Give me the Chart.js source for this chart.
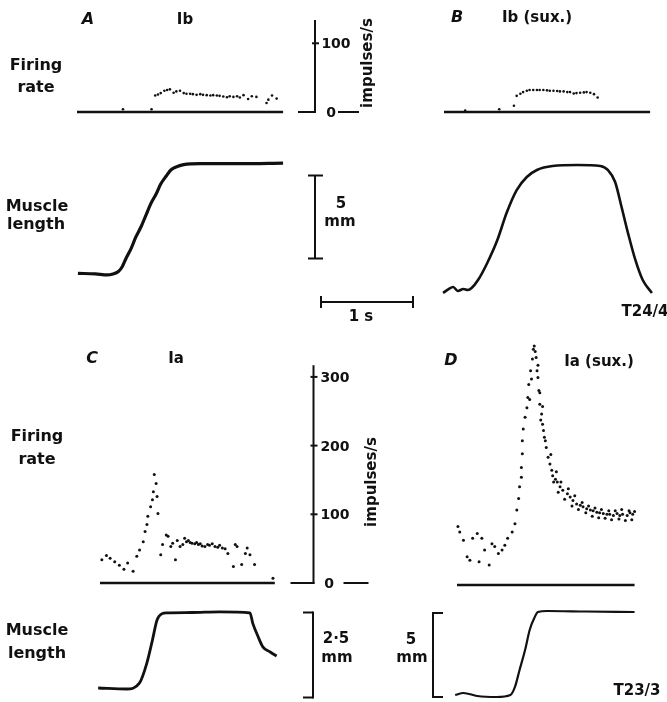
<!DOCTYPE html>
<html>
<head>
<meta charset="utf-8">
<script src="https://cdn.jsdelivr.net/npm/chart.js@4.4.1/dist/chart.umd.min.js"></script>
<style>
  html, body { margin: 0; padding: 0; background: #fff; }
  #wrap { position: relative; width: 667px; height: 702px; overflow: hidden; }
  #fig { position: absolute; left: 0; top: 0; }
  .lbl {
    position: absolute;
    transform: translate(-50%, -50%);
    font-family: "DejaVu Sans", "Liberation Sans", sans-serif;
    font-weight: bold;
    font-size: 15px;
    line-height: 1;
    color: #111;
    white-space: nowrap;
  }
  .row { font-size: 16px; }
  .panel { font-size: 16px; font-style: italic; }
  .tick { font-size: 14px; }
  .rot { transform: translate(-50%, -50%) rotate(-90deg); }
</style>
</head>
<body>
<div id="wrap">
  <canvas id="fig" width="667" height="702"></canvas>
</div>
<script>
const INK = '#111';
const W = 667, H = 702;
const PX_PER_S = 92;      // 1 s scale bar
const PX_PER_IMP = 0.687; // 100 impulses/s = 68.7 px

// ---- A: Ib ----
const aRateT = [0.50, 0.81, 0.85, 0.88, 0.91, 0.95, 0.98, 1.01, 1.05, 1.08, 1.12, 1.16, 1.19, 1.23, 1.26, 1.30, 1.34, 1.37, 1.41, 1.45, 1.48, 1.52, 1.55, 1.59, 1.63, 1.66, 1.70, 1.74, 1.77, 1.81, 1.86, 1.90, 1.95, 2.06, 2.08, 2.12, 2.17];
const aRateV = [4, 4, 24, 25.5, 27.5, 31, 32, 33, 28, 30, 31, 27.5, 26.5, 26.5, 26, 25, 26, 25, 24.5, 24, 24.5, 24, 23.5, 22.5, 21.5, 23, 22, 23, 21, 24.5, 19, 23, 22, 13, 18, 24, 19.5];
const aLenT = [0.01, 0.20, 0.33, 0.39, 0.45, 0.49, 0.53, 0.59, 0.64, 0.70, 0.75, 0.80, 0.86, 0.91, 0.97, 1.02, 1.09, 1.16, 1.34, 1.77, 2.24];
const aLenV = [0, -0.04, -0.10, -0.04, 0.11, 0.38, 0.86, 1.52, 2.19, 2.85, 3.51, 4.17, 4.78, 5.38, 5.86, 6.22, 6.43, 6.55, 6.61, 6.61, 6.64];

// ---- B: Ib (sux.) ----
const bRateT = [0.23, 0.60, 0.76, 0.79, 0.83, 0.86, 0.90, 0.93, 0.97, 1.01, 1.04, 1.08, 1.12, 1.15, 1.19, 1.23, 1.26, 1.30, 1.34, 1.37, 1.41, 1.44, 1.48, 1.52, 1.55, 1.59, 1.63, 1.67];
const bRateV = [2, 4, 9, 23.5, 26.5, 29, 31, 32, 32, 32, 32, 32, 31.5, 31, 31, 30.5, 30, 30, 29, 29, 27, 27.5, 28, 28.5, 29, 28, 26, 21];
const bLenT = [-0.01, 0.05, 0.10, 0.15, 0.21, 0.26, 0.30, 0.37, 0.47, 0.58, 0.68, 0.79, 0.90, 1.01, 1.18, 1.45, 1.70, 1.78, 1.86, 1.93, 2.00, 2.08, 2.16, 2.26];
const bLenV = [-0.12, 0.12, 0.24, 0, 0.12, 0.06, 0.18, 0.66, 1.69, 3.07, 4.70, 6.08, 6.87, 7.29, 7.53, 7.59, 7.53, 7.29, 6.57, 5.06, 3.49, 1.87, 0.66, -0.12];

// ---- C: Ia ----
const cRateT = [0.02, 0.07, 0.11, 0.16, 0.21, 0.26, 0.30, 0.36, 0.40, 0.43, 0.47, 0.49, 0.51, 0.52, 0.55, 0.57, 0.58, 0.59, 0.61, 0.62, 0.63, 0.66, 0.68, 0.72, 0.74, 0.77, 0.79, 0.82, 0.84, 0.87, 0.90, 0.92, 0.94, 0.96, 0.98, 1.00, 1.03, 1.05, 1.07, 1.09, 1.11, 1.14, 1.17, 1.19, 1.22, 1.25, 1.28, 1.30, 1.33, 1.36, 1.39, 1.45, 1.47, 1.49, 1.54, 1.58, 1.60, 1.63, 1.68, 1.88];
const cRateV = [34, 40, 36, 31, 26, 20, 29, 17, 39, 48, 60, 75, 85, 97, 111, 121, 133, 158, 145, 126, 101, 41, 56, 70, 68, 53, 58, 34, 62, 53, 56, 65, 60, 62, 59, 58, 57, 59, 56, 57, 54, 53, 56, 55, 57, 53, 52, 55, 51, 50, 43, 24, 56, 53, 27, 43, 51, 41, 27, 7];
const cLenT = [-0.02, 0.29, 0.43, 0.51, 0.57, 0.62, 0.67, 0.73, 1.00, 1.30, 1.63, 1.66, 1.72, 1.77, 1.85, 1.92];
const cLenV = [0, -0.03, 0.15, 0.74, 1.41, 2.00, 2.18, 2.21, 2.22, 2.24, 2.21, 1.91, 1.50, 1.21, 1.06, 0.94];

// ---- D: Ia (sux.) ----
const dRateT = [0.01, 0.03, 0.07, 0.11, 0.14, 0.17, 0.22, 0.24, 0.27, 0.30, 0.35, 0.38, 0.41, 0.45, 0.49, 0.52, 0.55, 0.60, 0.63, 0.65, 0.67, 0.68, 0.70, 0.70, 0.71, 0.71, 0.72, 0.74, 0.76, 0.77, 0.78, 0.79, 0.80, 0.81, 0.82, 0.83, 0.84, 0.85, 0.86, 0.87, 0.88, 0.88, 0.89, 0.90, 0.90, 0.91, 0.92, 0.93, 0.93, 0.94, 0.95, 0.96, 0.97, 0.99, 1.01, 1.02, 1.03, 1.04, 1.05, 1.07, 1.08, 1.09, 1.10, 1.12, 1.13, 1.15, 1.17, 1.20, 1.21, 1.23, 1.25, 1.26, 1.28, 1.30, 1.32, 1.34, 1.36, 1.37, 1.40, 1.41, 1.43, 1.45, 1.47, 1.48, 1.50, 1.52, 1.54, 1.55, 1.57, 1.59, 1.61, 1.63, 1.65, 1.66, 1.68, 1.70, 1.72, 1.74, 1.76, 1.77, 1.79, 1.80, 1.83, 1.85, 1.87, 1.88, 1.90, 1.91, 1.93];
const dRateV = [85, 77, 65, 41, 36, 68, 75, 34, 68, 51, 29, 60, 56, 46, 51, 58, 68, 77, 89, 109, 126, 143, 157, 171, 191, 210, 227, 244, 258, 273, 292, 270, 312, 300, 329, 343, 348, 340, 331, 312, 302, 320, 283, 263, 280, 240, 249, 234, 260, 225, 215, 210, 200, 186, 176, 190, 167, 159, 150, 154, 165, 150, 135, 143, 150, 138, 125, 133, 140, 128, 115, 123, 130, 118, 110, 116, 120, 114, 105, 111, 115, 109, 100, 108, 112, 106, 98, 105, 110, 104, 97, 103, 108, 103, 95, 101, 108, 104, 96, 101, 110, 103, 94, 101, 108, 105, 95, 103, 107];
const dLenT = [-0.02, 0.07, 0.22, 0.43, 0.58, 0.63, 0.68, 0.74, 0.79, 0.84, 0.88, 0.98, 1.40, 1.93];
const dLenV = [0, 0.12, -0.06, -0.12, 0, 0.48, 1.49, 2.68, 3.87, 4.58, 4.94, 5.00, 4.97, 4.94];

// zero lines of the rate records (start, end in s)
const baseAB = [0, 2.24];
const baseC = [0, 1.90];
const baseD = [0, 1.93];

const rateTicksAB = [0, 100];
const rateTicksCD = [0, 100, 200, 300];

// where each panel sits on the page (px)
const panels = {
  A: { x0: 77,  rate0: 112, len0: 273.3, pxPerMm: 16.6 },
  B: { x0: 444, rate0: 112, len0: 291,   pxPerMm: 16.6 },
  C: { x0: 100, rate0: 583, len0: 688,   pxPerMm: 34 },
  D: { x0: 457, rate0: 585, len0: 695,   pxPerMm: 16.8 },
};

const xRange = (px0) => ({ min: -px0 / PX_PER_S, max: (W - px0) / PX_PER_S });
const yRange = (px0, per) => ({ min: -(H - px0) / per, max: px0 / per });
const zip = (t, v) => t.map((x, i) => ({ x: x, y: v[i] }));

function hidden(axis, range) {
  return Object.assign({ type: 'linear', axis: axis, display: false, bounds: 'data', grace: 0 }, range);
}

const scales = { x: hidden('x', {}), y: hidden('y', {}) };
Object.keys(panels).forEach(k => {
  const p = panels[k];
  scales['x' + k] = hidden('x', xRange(p.x0));
  scales['r' + k] = hidden('y', yRange(p.rate0, PX_PER_IMP));
  scales['l' + k] = hidden('y', yRange(p.len0, p.pxPerMm));
});

function dots(t, v, k, r) {
  return {
    data: zip(t, v), xAxisID: 'x' + k, yAxisID: 'r' + k,
    showLine: false, pointRadius: r, pointBackgroundColor: INK, pointBorderWidth: 0,
  };
}
function trace(t, v, k, axis, w) {
  return {
    data: zip(t, v), xAxisID: 'x' + k, yAxisID: axis + k,
    showLine: true, pointRadius: 0, borderColor: INK, borderWidth: w,
    cubicInterpolationMode: 'monotone', fill: false,
  };
}
const zero = (range) => range.map(() => 0);

function line(ctx, x1, y1, x2, y2) {
  ctx.beginPath();
  ctx.moveTo(x1, y1);
  ctx.lineTo(x2, y2);
  ctx.stroke();
}

// vertical rate axis with ticks crossing it, zero line on both sides
function rateAxis(ctx, x, ys, ticks, top, leftLen, dash) {
  const y0 = ys.getPixelForValue(0);
  line(ctx, x, y0 + 1, x, ys.getPixelForValue(top));
  ticks.forEach(v => {
    const y = ys.getPixelForValue(v);
    if (v === 0) line(ctx, x - leftLen, y, x + 1, y);
    else line(ctx, x - 3, y, x + 4, y);
  });
  line(ctx, x + dash[0], y0, x + dash[1], y0);
}

const decor = {
  id: 'decor',
  afterDatasetsDraw(chart) {
    const ctx = chart.ctx, s = chart.scales;
    ctx.save();
    ctx.strokeStyle = INK;
    ctx.lineWidth = 2;

    rateAxis(ctx, 315, s.rA, rateTicksAB, 134, 17, [23, 44]);
    rateAxis(ctx, 313.5, s.rC, rateTicksCD, 317, 23, [30, 55]);

    // 5 mm bar for A and B
    let x = 315, yb = 258.5;
    let len = s.lA.getPixelForValue(0) - s.lA.getPixelForValue(5);
    line(ctx, x, yb, x, yb - len);
    line(ctx, x - 7, yb, x + 8, yb);
    line(ctx, x - 7, yb - len, x + 8, yb - len);

    // 2.5 mm bracket for C
    x = 313; yb = 697.5;
    len = s.lC.getPixelForValue(0) - s.lC.getPixelForValue(2.5);
    line(ctx, x, yb + 1, x, yb - len - 1);
    line(ctx, x - 10, yb, x, yb);
    line(ctx, x - 10, yb - len, x, yb - len);

    // 5 mm bracket for D
    x = 433; yb = 697;
    len = s.lD.getPixelForValue(0) - s.lD.getPixelForValue(5);
    line(ctx, x, yb + 1, x, yb - len - 1);
    line(ctx, x, yb, x + 10, yb);
    line(ctx, x, yb - len, x + 10, yb - len);

    // 1 s bar
    const xs = 321, y = 302;
    const w = s.xA.getPixelForValue(1) - s.xA.getPixelForValue(0);
    line(ctx, xs, y, xs + w, y);
    line(ctx, xs, y - 6, xs, y + 6);
    line(ctx, xs + w, y - 6, xs + w, y + 6);
    ctx.restore();
  }
};

const chart = new Chart(document.getElementById('fig'), {
  type: 'scatter',
  data: {
    datasets: [
      trace(baseAB, zero(baseAB), 'A', 'r', 2.6),
      dots(aRateT, aRateV, 'A', 1.3),
      trace(aLenT, aLenV, 'A', 'l', 3.2),
      trace(baseAB, zero(baseAB), 'B', 'r', 2.6),
      dots(bRateT, bRateV, 'B', 1.3),
      trace(bLenT, bLenV, 'B', 'l', 2.6),
      trace(baseC, zero(baseC), 'C', 'r', 2.6),
      dots(cRateT, cRateV, 'C', 1.5),
      trace(cLenT, cLenV, 'C', 'l', 2.8),
      trace(baseD, zero(baseD), 'D', 'r', 2.4),
      dots(dRateT, dRateV, 'D', 1.5),
      trace(dLenT, dLenV, 'D', 'l', 2.2),
    ]
  },
  options: {
    responsive: false,
    animation: false,
    events: [],
    layout: { padding: 0, autoPadding: false },
    plugins: { legend: { display: false }, tooltip: { enabled: false } },
    scales: scales,
  },
  plugins: [decor],
});

// ---- text ----
const wrap = document.getElementById('wrap');
function label(text, cx, cy, cls) {
  const d = document.createElement('div');
  d.className = 'lbl ' + (cls || '');
  d.textContent = text;
  d.style.left = cx + 'px';
  d.style.top = cy + 'px';
  wrap.appendChild(d);
}

const panelLetters = [['A', 88, 19], ['B', 457, 17], ['C', 92, 358], ['D', 451, 360]];
const titles = [['Ib', 185, 19], ['Ib (sux.)', 537, 17], ['Ia', 176, 358], ['Ia (sux.)', 599, 361]];
const rowLabels = [
  ['Firing', 36, 65], ['rate', 36, 87], ['Muscle', 37, 206], ['length', 36, 224],
  ['Firing', 37, 436], ['rate', 37, 459], ['Muscle', 37, 630], ['length', 37, 653],
];
const notes = [
  ['T24/4', 645, 311], ['T23/3', 637, 690], ['1 s', 361, 316],
  ['5', 341, 203], ['mm', 340, 221], ['2·5', 336, 638], ['mm', 337, 657], ['5', 411, 639], ['mm', 412, 657],
];

panelLetters.forEach(l => label(l[0], l[1], l[2], 'panel'));
titles.forEach(l => label(l[0], l[1], l[2]));
rowLabels.forEach(l => label(l[0], l[1], l[2], 'row'));
notes.forEach(l => label(l[0], l[1], l[2]));

// tick labels of the rate axes, placed through the scales
rateTicksAB.forEach(v => label(String(v), v === 0 ? 331 : 336, chart.scales.rA.getPixelForValue(v), 'tick'));
rateTicksCD.forEach(v => label(String(v), v === 0 ? 329 : 335, chart.scales.rC.getPixelForValue(v), 'tick'));
label('impulses/s', 367, 63, 'rot');
label('impulses/s', 371, 482, 'rot');
</script>
</body>
</html>
